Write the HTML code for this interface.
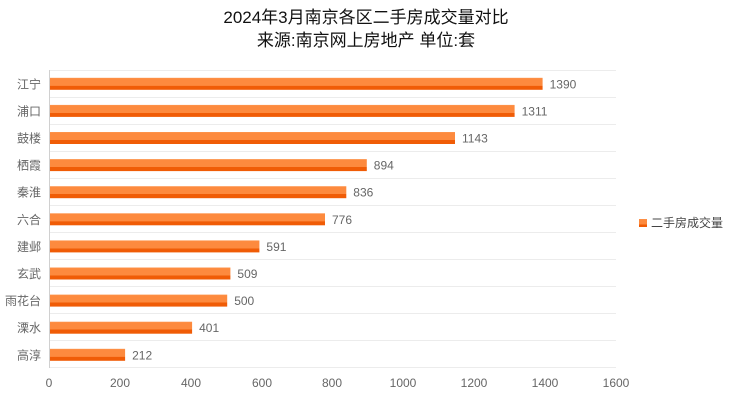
<!DOCTYPE html><html><head><meta charset="utf-8"><style>body{margin:0;background:#fff}svg text{font-family:"Liberation Sans","Noto Sans CJK SC",sans-serif}</style></head><body>
<svg width="732" height="400" xmlns="http://www.w3.org/2000/svg">
<defs><linearGradient id="g" x1="0" y1="0" x2="0" y2="1"><stop offset="0" stop-color="#fd9a55"/><stop offset="0.08" stop-color="#fd8a3e"/><stop offset="0.66" stop-color="#fd8a3e"/><stop offset="0.67" stop-color="#f05c06"/><stop offset="1" stop-color="#f05c06"/></linearGradient></defs>
<text x="366" y="23" font-size="17" text-anchor="middle" fill="#111">2024年3月南京各区二手房成交量对比</text>
<text x="366" y="46" font-size="17" text-anchor="middle" fill="#111">来源:南京网上房地产 单位:套</text>
<g stroke="#ececec" stroke-width="1">
<line x1="49" x2="616" y1="70.5" y2="70.5"/><line x1="49" x2="616" y1="97.5" y2="97.5"/><line x1="49" x2="616" y1="124.5" y2="124.5"/><line x1="49" x2="616" y1="151.5" y2="151.5"/><line x1="49" x2="616" y1="178.5" y2="178.5"/><line x1="49" x2="616" y1="205.5" y2="205.5"/><line x1="49" x2="616" y1="232.5" y2="232.5"/><line x1="49" x2="616" y1="259.5" y2="259.5"/><line x1="49" x2="616" y1="286.5" y2="286.5"/><line x1="49" x2="616" y1="313.5" y2="313.5"/><line x1="49" x2="616" y1="340.5" y2="340.5"/><line x1="49" x2="616" y1="367.5" y2="367.5"/>
</g>
<line x1="49.5" y1="70" x2="49.5" y2="368" stroke="#d0d0d0"/>
<g fill="url(#g)">
<rect x="50" y="77.8" width="492.6" height="12"/>
<rect x="50" y="104.9" width="464.6" height="12"/>
<rect x="50" y="132" width="405" height="12"/>
<rect x="50" y="159.1" width="316.8" height="12"/>
<rect x="50" y="186.2" width="296.3" height="12"/>
<rect x="50" y="213.3" width="275" height="12"/>
<rect x="50" y="240.4" width="209.4" height="12"/>
<rect x="50" y="267.5" width="180.4" height="12"/>
<rect x="50" y="294.6" width="177.2" height="12"/>
<rect x="50" y="321.7" width="142.1" height="12"/>
<rect x="50" y="348.8" width="75.1" height="12"/>
</g>
<g font-size="12" fill="#666" text-anchor="end">
<text x="41" y="88.3">江宁</text><text x="41" y="115.4">浦口</text><text x="41" y="142.5">鼓楼</text><text x="41" y="169.6">栖霞</text><text x="41" y="196.7">秦淮</text><text x="41" y="223.8">六合</text><text x="41" y="250.9">建邺</text><text x="41" y="278">玄武</text><text x="41" y="305.1">雨花台</text><text x="41" y="332.2">溧水</text><text x="41" y="359.3">高淳</text>
</g>
<g font-size="12" fill="#666">
<text x="549.6" y="88.3">1390</text><text x="521.6" y="115.4">1311</text><text x="462" y="142.5">1143</text><text x="373.8" y="169.6">894</text><text x="353.3" y="196.7">836</text><text x="332" y="223.8">776</text><text x="266.4" y="250.9">591</text><text x="237.4" y="278">509</text><text x="234.2" y="305.1">500</text><text x="199.1" y="332.2">401</text><text x="132.1" y="359.3">212</text>
</g>
<g font-size="12" fill="#666" text-anchor="middle">
<text x="49" y="387">0</text><text x="120" y="387">200</text><text x="191" y="387">400</text><text x="262" y="387">600</text><text x="332" y="387">800</text><text x="403" y="387">1000</text><text x="474" y="387">1200</text><text x="545" y="387">1400</text><text x="616" y="387">1600</text></g>
<rect x="639" y="219" width="8" height="8" fill="url(#g)"/>
<text x="651" y="227" font-size="12" fill="#444">二手房成交量</text>
</svg></body></html>
